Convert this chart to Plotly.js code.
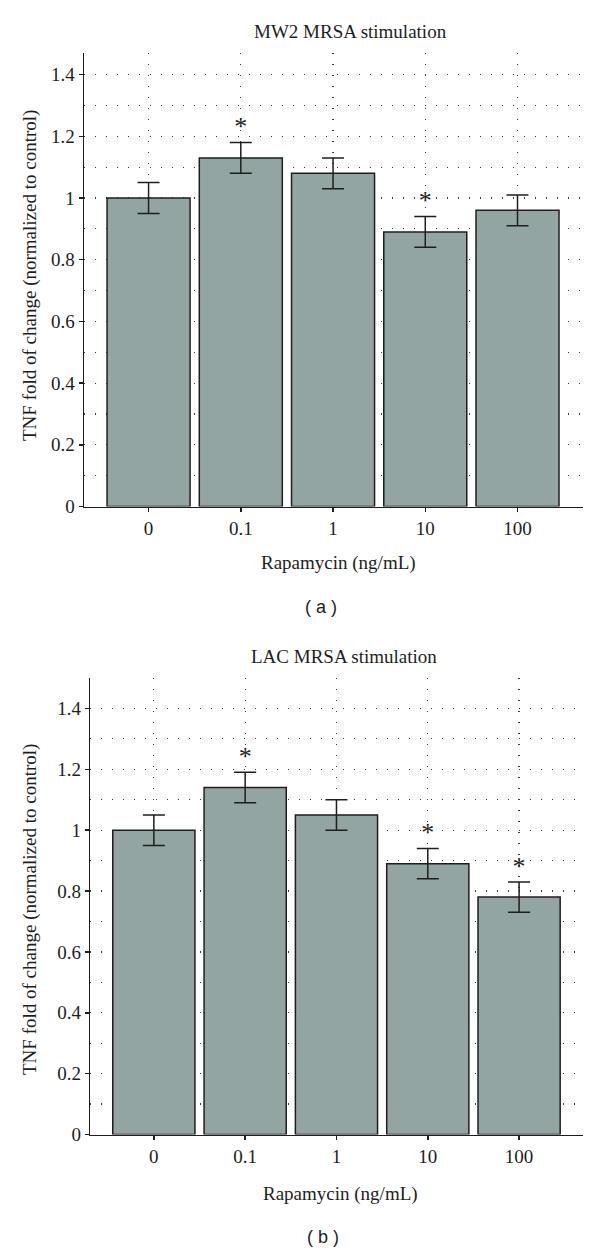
<!DOCTYPE html>
<html>
<head>
<meta charset="utf-8">
<script src="https://cdn.plot.ly/plotly-3.0.1.min.js"></script>
<style>
  html, body { margin: 0; padding: 0; background: #ffffff; }
  #chart { width: 600px; height: 1252px; }
</style>
</head>
<body>
<div id="chart"></div>
<script>
// ---------- data ----------
const categories = ['0', '0.1', '1', '10', '100'];

const mw2Values = [1.00, 1.13, 1.08, 0.89, 0.96];
const mw2Errors = [0.05, 0.05, 0.05, 0.05, 0.05];
const mw2Significant = [false, true, false, true, false];

const lacValues = [1.00, 1.14, 1.05, 0.89, 0.78];
const lacErrors = [0.05, 0.05, 0.05, 0.05, 0.05];
const lacSignificant = [false, true, false, true, true];

const panelTitles = ['MW2 MRSA stimulation', 'LAC MRSA stimulation'];
const panelLabels = ['( a )', '( b )'];
const xTitle = 'Rapamycin (ng/mL)';
const yTitle = 'TNF fold of change (normalized to control)';

// ---------- style ----------
const W = 600, H = 1252;
const SERIF = '"Liberation Serif", "Times New Roman", serif';
const SANS = '"Liberation Sans", Arial, sans-serif';
const TEXT = '#1e1e1e';
const LINE = '#1e1e1e';
const BAR_FILL = '#93a5a2';
const GRID = '#3a3a3a';
const DOT = '1px,10px';
const STAR_GAP = 0.045;

const py = p => 1 - p / H;   // pixel row -> paper y
const px = p => p / W;       // pixel col -> paper x

function barTrace(vals, errs, xa, ya) {
  return {
    type: 'bar', x: categories, y: vals, width: 0.9,
    xaxis: xa, yaxis: ya,
    marker: { color: BAR_FILL, line: { color: LINE, width: 1.5 } },
    error_y: { type: 'data', array: errs, visible: true, color: LINE, thickness: 1.5, width: 11 },
    hoverinfo: 'x+y'
  };
}
function starTrace(vals, errs, sig, xa, ya) {
  const xs = [], ys = [];
  sig.forEach((s, i) => { if (s) { xs.push(categories[i]); ys.push(vals[i] + errs[i] + STAR_GAP); } });
  return {
    type: 'scatter', mode: 'text', x: xs, y: ys, text: xs.map(() => '*'),
    textposition: 'middle center', xaxis: xa, yaxis: ya,
    textfont: { family: SERIF, size: 26, color: TEXT }, hoverinfo: 'skip'
  };
}
function xAxis(domain, anchor, range) {
  return {
    domain: domain, anchor: anchor, type: 'category', range: range,
    showline: true, linecolor: LINE, linewidth: 1.5,
    ticks: 'outside', ticklen: 4, tickwidth: 1.5, tickcolor: LINE,
    showgrid: true, gridcolor: GRID, gridwidth: 1.2, griddash: DOT,
    zeroline: false, fixedrange: true,
    tickfont: { family: SERIF, size: 19, color: TEXT }
  };
}
function yAxis(domain, anchor, range) {
  return {
    domain: domain, anchor: anchor, range: range,
    tickmode: 'linear', tick0: 0, dtick: 0.2,
    showline: true, linecolor: LINE, linewidth: 1.5,
    ticks: 'outside', ticklen: 4, tickwidth: 1.5, tickcolor: LINE,
    showgrid: true, gridcolor: GRID, gridwidth: 1.2, griddash: DOT,
    minor: { tick0: 0, dtick: 0.1, showgrid: true, gridcolor: GRID, gridwidth: 1.2, griddash: DOT, ticks: '' },
    zeroline: false, fixedrange: true,
    tickfont: { family: SERIF, size: 19, color: TEXT }
  };
}

const data = [
  barTrace(mw2Values, mw2Errors, 'x', 'y'),
  starTrace(mw2Values, mw2Errors, mw2Significant, 'x', 'y'),
  barTrace(lacValues, lacErrors, 'x2', 'y2'),
  starTrace(lacValues, lacErrors, lacSignificant, 'x2', 'y2')
];

function ann(text, x, y, font, extra) {
  return Object.assign({ text: text, x: x, y: y, xref: 'paper', yref: 'paper',
    xanchor: 'center', yanchor: 'middle', showarrow: false, font: font }, extra || {});
}
const serifFont = { family: SERIF, size: 19, color: TEXT };
const sansFont = { family: SANS, size: 18, color: TEXT };

const layout = {
  width: W, height: H,
  margin: { l: 0, r: 0, t: 0, b: 0 },
  paper_bgcolor: '#ffffff', plot_bgcolor: '#ffffff',
  showlegend: false,
  xaxis: xAxis([px(84), px(583)], 'y', [-0.70, 4.71]),
  yaxis: yAxis([py(506.5), py(53)], 'x', [0, 1.47]),
  xaxis2: xAxis([px(90.4), px(583)], 'y2', [-0.695, 4.70]),
  yaxis2: yAxis([py(1134.5), py(678)], 'x2', [0, 1.5]),
  annotations: [
    ann(panelTitles[0], px(350), py(31), serifFont),
    ann(xTitle, px(338.5), py(563), serifFont),
    ann(panelLabels[0], px(321), py(607), sansFont),
    ann(yTitle, px(30), py(276), serifFont, { textangle: -90 }),
    ann(panelTitles[1], px(344), py(656), serifFont),
    ann(xTitle, px(340), py(1194), serifFont),
    ann(panelLabels[1], px(323), py(1237), sansFont),
    ann(yTitle, px(30), py(910), serifFont, { textangle: -90 })
  ]
};

Plotly.newPlot('chart', data, layout, { staticPlot: true, displayModeBar: false });
</script>
</body>
</html>
